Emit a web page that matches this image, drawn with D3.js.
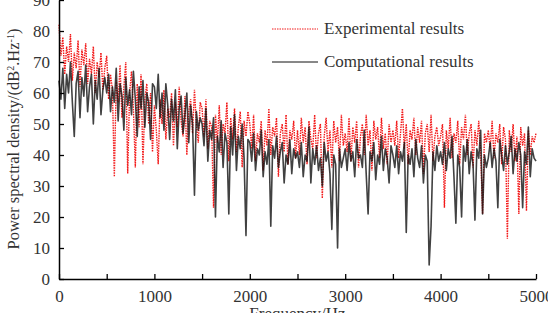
<!DOCTYPE html>
<html>
<head>
<meta charset="utf-8">
<script src="https://cdn.jsdelivr.net/npm/d3@7"></script>
<style>
  body { margin: 0; background: #fff; }
  svg { display: block; }
  text { font-family: "Liberation Serif", "Times New Roman", serif; fill: #333; }
</style>
</head>
<body>
<div id="chart"></div>
<script>
// Frequency grid (Hz), one sample every 20 Hz
var frequencies = d3.range(0, 5001, 20);

// Experimental PSD (dB^2.Hz^-1)
var experimental = [
  82, 72, 78, 66, 75, 70, 79, 64, 73, 68, 77, 62, 74, 69, 76, 63, 71, 66, 75, 60, 70, 65, 73, 61, 68,
  72, 58, 66, 61, 33, 64, 57, 69, 52, 62, 70, 34, 60, 67, 55, 36, 63, 49, 66, 37, 58, 63, 50, 60, 41,
  56, 48, 37, 58, 50, 61, 45, 55, 52, 60, 43, 57, 49, 62, 51, 46, 59, 40, 54, 58, 47, 61, 50, 44, 57,
  55, 46, 58, 42, 51, 49, 23, 53, 44, 56, 40, 50, 47, 57, 38, 52, 45, 55, 41, 49, 54, 36, 51, 46, 54,
  50, 42, 53, 38, 47, 44, 51, 35, 48, 43, 55, 40, 49, 46, 52, 33, 47, 50, 41, 53, 37, 48, 45, 51, 39,
  48, 40, 52, 44, 49, 37, 51, 45, 42, 53, 39, 47, 50, 26, 46, 52, 41, 48, 36, 51, 44, 49, 38, 53, 43,
  47, 41, 52, 38, 49, 44, 51, 36, 46, 50, 40, 53, 43, 48, 35, 51, 45, 49, 39, 52, 42, 47, 37, 50, 44,
  48, 43, 51, 39, 47, 55, 42, 50, 37, 48, 45, 52, 40, 49, 44, 51, 34, 47, 50, 41, 53, 38, 46, 49, 43,
  46, 50, 23, 48, 42, 52, 39, 47, 44, 51, 37, 49, 45, 53, 40, 47, 50, 36, 48, 43, 51, 41, 21, 47, 44,
  48, 42, 51, 39, 47, 44, 50, 37, 49, 45, 13, 48, 41, 50, 38, 46, 21, 49, 43, 47, 22, 48, 40, 46, 44,
  47
];

// Computational PSD (dB^2.Hz^-1)
var computational = [
  64, 58, 68, 55, 66, 60, 70, 57, 46, 63, 67, 52, 65, 59, 69, 54, 62, 66, 50, 64, 58, 68, 53, 61, 65,
  60, 66, 54, 62, 57, 68, 51, 63, 59, 48, 65, 56, 61, 53, 67, 58, 46, 62, 55, 64, 49, 60, 57, 45, 63,
  62, 55, 66, 52, 60, 48, 63, 56, 45, 58, 51, 61, 42, 55, 59, 47, 53, 60, 44, 56, 50, 27, 54, 48, 52,
  50, 43, 55, 38, 48, 45, 52, 20, 46, 41, 51, 36, 47, 44, 21, 49, 40, 53, 35, 46, 42, 50, 39, 14, 45,
  44, 38, 47, 35, 42, 40, 48, 33, 41, 37, 45, 17, 43, 39, 46, 36, 41, 44, 31, 40, 37, 45, 34, 42, 39,
  41, 36, 44, 33, 40, 38, 49, 31, 42, 37, 43, 35, 39, 30, 44, 38, 41, 34, 16, 40, 37, 10, 42, 36, 39,
  42, 35, 44, 38, 41, 33, 45, 39, 40, 36, 48, 34, 21, 41, 38, 44, 32, 40, 37, 46, 35, 42, 39, 31, 43,
  40, 36, 43, 34, 41, 38, 44, 15, 40, 37, 42, 33, 45, 39, 36, 43, 31, 40, 38, 4.5, 17, 41, 35, 43, 38,
  41, 37, 44, 35, 42, 39, 46, 33, 18, 40, 36, 20, 43, 38, 45, 34, 41, 37, 19, 42, 39, 48, 21, 40, 36,
  39, 44, 36, 42, 38, 23, 45, 40, 35, 43, 37, 41, 46, 34, 42, 38, 44, 40, 23, 41, 37, 49, 33, 42, 39,
  38
];

var xTicks = [0, 500, 1000, 1500, 2000, 2500, 3000, 3500, 4000, 4500, 5000];
var yTicks = [0, 10, 20, 30, 40, 50, 60, 70, 80, 90];
var seriesNames = ["Experimental results", "Computational results"];

// svg size and margins
var svgWidth = 548;
var svgHeight = 313;
var margin = { top: 0, right: 12, bottom: 34, left: 59 };
var chartWidth = svgWidth - margin.left - margin.right;
var chartHeight = svgHeight - margin.top - margin.bottom;

var svg = d3.select("#chart")
  .append("svg")
  .attr("width", svgWidth)
  .attr("height", svgHeight);

var chartGroup = svg.append("g")
  .attr("transform", `translate(${margin.left}, ${margin.top})`);

var xScale = d3.scaleLinear().domain([0, 5000]).range([0, chartWidth]);
var yScale = d3.scaleLinear().domain([0, 90]).range([chartHeight, 0]);

// lines
var lineGen = d3.line()
  .x(d => xScale(d[0]))
  .y(d => yScale(d[1]));

var expData = frequencies.map((f, i) => [f, experimental[i]]);
var compData = frequencies.map((f, i) => [f, computational[i]]);

chartGroup.append("path")
  .datum(expData)
  .attr("fill", "none")
  .attr("stroke", "#f21a1a")
  .attr("stroke-width", 1.4)
  .attr("stroke-dasharray", "1.5,1")
  .attr("d", lineGen);

chartGroup.append("path")
  .datum(compData)
  .attr("fill", "none")
  .attr("stroke", "#111")
  .attr("stroke-width", 1.6)
  .attr("stroke-opacity", 0.8)
  .attr("stroke-linejoin", "round")
  .attr("d", lineGen);

// axes, ticks pointing inward
var bottomAxis = d3.axisBottom(xScale)
  .tickValues(xTicks)
  .tickSizeInner(-5)
  .tickSizeOuter(0)
  .tickPadding(11)
  .tickFormat(d => d % 1000 === 0 ? d : "");

var leftAxis = d3.axisLeft(yScale)
  .tickValues(yTicks)
  .tickSizeInner(-5)
  .tickSizeOuter(0)
  .tickPadding(9);

var xAxis = chartGroup.append("g")
  .attr("transform", `translate(0, ${chartHeight})`)
  .call(bottomAxis);

var yAxis = chartGroup.append("g")
  .call(leftAxis);

[xAxis, yAxis].forEach(function(ax) {
  ax.select(".domain").attr("stroke", "#000").attr("stroke-width", 1.5);
  ax.selectAll(".tick line").attr("stroke", "#000").attr("stroke-width", 1.3);
  ax.selectAll(".tick text")
    .attr("font-family", "Liberation Serif, serif")
    .attr("font-size", "17px")
    .attr("fill", "#333");
});

// axis titles
chartGroup.append("text")
  .attr("transform", "rotate(-90)")
  .attr("x", -139)
  .attr("y", -40)
  .attr("text-anchor", "middle")
  .attr("font-size", "16.5px")
  .html("Power spectral density/(dB<tspan baseline-shift='super' font-size='10px'>2</tspan>.Hz<tspan baseline-shift='super' font-size='10px'>-1</tspan>)");

chartGroup.append("text")
  .attr("x", chartWidth / 2)
  .attr("y", chartHeight + 40)
  .attr("text-anchor", "middle")
  .attr("font-size", "17px")
  .text("Frequency/Hz");

// legend
var legend = svg.append("g").attr("transform", "translate(272, 29)");

legend.append("line")
  .attr("x1", 0).attr("x2", 46).attr("y1", 0).attr("y2", 0)
  .attr("stroke", "#f21a1a")
  .attr("stroke-width", 1)
  .attr("stroke-dasharray", "1.5,1");

legend.append("text")
  .attr("x", 52).attr("y", 5)
  .attr("font-size", "17px")
  .text(seriesNames[0]);

legend.append("line")
  .attr("x1", 0).attr("x2", 46).attr("y1", 33).attr("y2", 33)
  .attr("stroke", "#111")
  .attr("stroke-width", 1);

legend.append("text")
  .attr("x", 52).attr("y", 38)
  .attr("font-size", "17px")
  .text(seriesNames[1]);
</script>
</body>
</html>
